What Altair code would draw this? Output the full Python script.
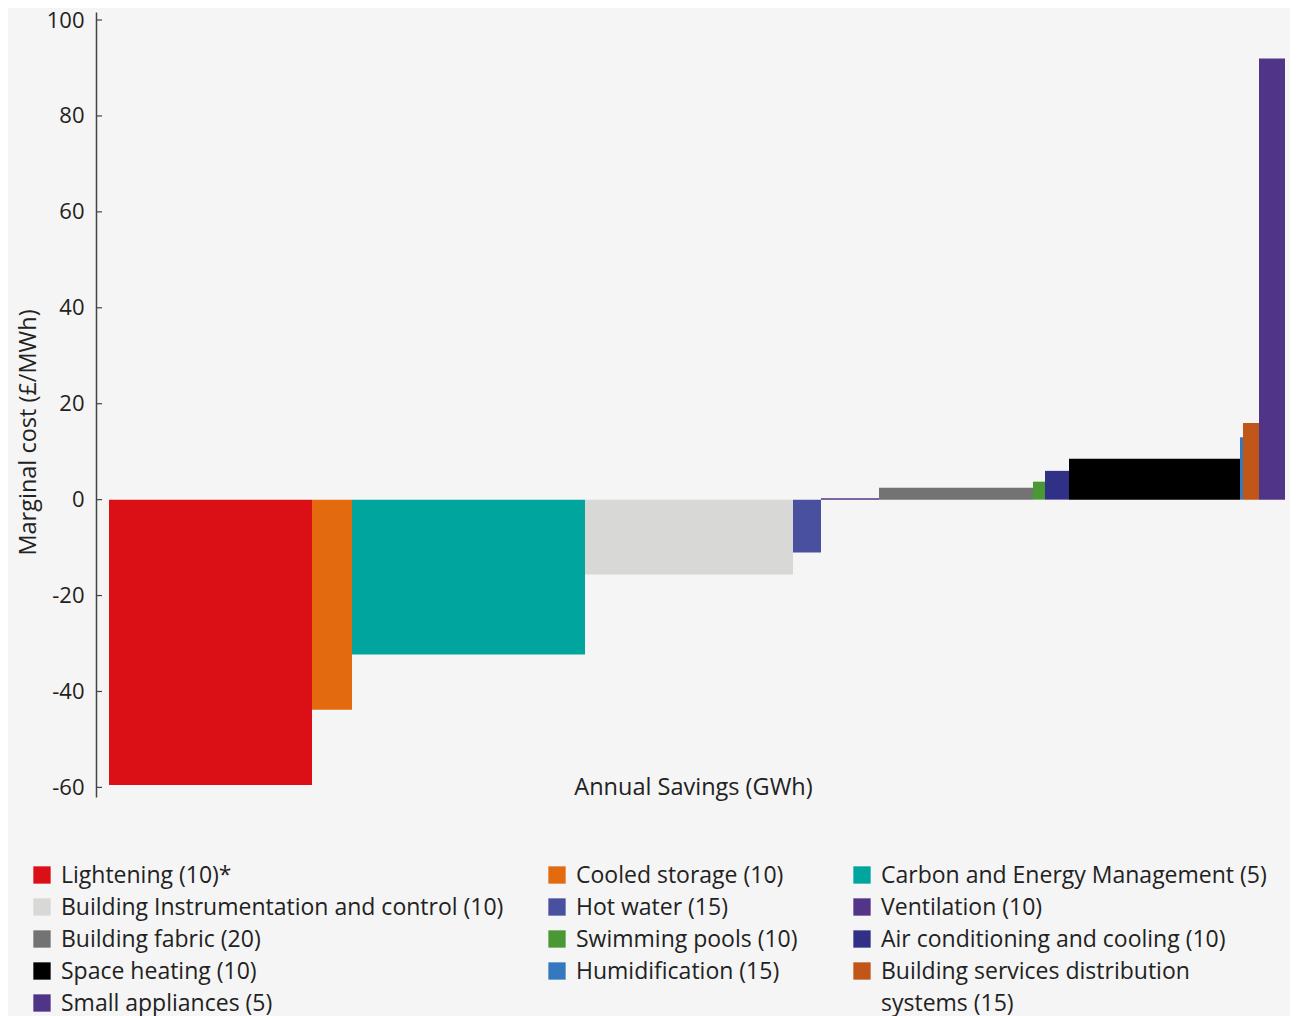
import altair as alt
import pandas as pd

# ---- data ----
categories = [
    "Lightening (10)*", "Cooled storage (10)", "Carbon and Energy Management (5)",
    "Building Instrumentation and control (10)", "Hot water (15)", "Ventilation (10)",
    "Building fabric (20)", "Swimming pools (10)", "Air conditioning and cooling (10)",
    "Space heating (10)", "Humidification (15)", "Building services distribution systems (15)",
    "Small appliances (5)",
]
legend_text = [
    "Lightening (10)*", "Cooled storage (10)", "Carbon and Energy Management (5)",
    "Building Instrumentation and control (10)", "Hot water (15)", "Ventilation (10)",
    "Building fabric (20)", "Swimming pools (10)", "Air conditioning and cooling (10)",
    "Space heating (10)", "Humidification (15)", "Building services distribution\nsystems (15)",
    "Small appliances (5)",
]
savings = [20.3, 4.0, 23.3, 20.8, 2.8, 5.8, 15.4, 1.2, 2.4, 17.1, 0.3, 1.6, 2.6]   # annual savings (width)
cost = [-59.5, -43.8, -32.3, -15.6, -11.0, 0.3, 2.5, 3.75, 6.0, 8.5, 13.0, 16.0, 92.0]  # marginal cost
colors = ["#db0f16", "#e36a0e", "#00a59d", "#d8d8d6", "#4a50a0", "#523587", "#737373",
          "#4a9833", "#303087", "#000000", "#3479c0", "#c05618", "#4f3488"]
y_ticks = [-60, -40, -20, 0, 20, 40, 60, 80, 100]

# ---- tables ----
starts, ends, acc = [], [], 0.0
for w in savings:
    starts.append(acc)
    acc += w
    ends.append(acc)
bars = pd.DataFrame({"cat": categories, "x0": starts, "x1": ends, "cost": cost, "zero": 0})
leg = pd.DataFrame({
    "cat": categories, "text": legend_text,
    "col": [i % 3 for i in range(len(categories))],
    "row": [i // 3 for i in range(len(categories))],
})
ticks_df = pd.DataFrame({"v": y_ticks})

FONT = "Open Sans"
TXT = "#222222"
xdom = [-1.3, 118.1]
ydom = [-62, 101.67]
color_scale = alt.Scale(domain=categories, range=colors)

xs = alt.Scale(domain=xdom, nice=False, zero=False)
ys = alt.Scale(domain=ydom, nice=False, zero=False)

bar_layer = alt.Chart(bars).mark_rect().encode(
    x=alt.X("x0:Q", scale=xs, axis=alt.Axis(
        title="Annual Savings (GWh)", labels=False, ticks=False, domain=False, grid=False,
        titleFont=FONT, titleFontSize=23.5, titleFontWeight="normal", titleColor=TXT,
        titleY=-10, titleBaseline="middle")),
    x2="x1:Q",
    y=alt.Y("zero:Q", scale=ys, axis=alt.Axis(
        title="Marginal cost (£/MWh)", values=y_ticks, grid=False, tickSize=0,
        labelExpr="'' + datum.value",
        labelPadding=12, labelFont=FONT, labelFontSize=22, labelColor=TXT,
        domainColor="#444444", domainWidth=1.5,
        titleFont=FONT, titleFontSize=23.5, titleFontWeight="normal", titleColor=TXT,
        titleX=-68, titleY=420, titleAngle=-90, titleBaseline="middle", titleAlign="center")),
    y2="cost:Q",
    color=alt.Color("cat:N", scale=color_scale, legend=None),
)

zero_line = alt.Chart(bars).mark_rule(color="#555555", strokeWidth=1.5).encode(
    y=alt.Y("datum.zero:Q", scale=ys),
    x=alt.value(0), x2=alt.value(1194),
).transform_filter("datum.cat == 'Lightening (10)*'")

tick_marks = alt.Chart(ticks_df).mark_rule(color="#444444", strokeWidth=1.2).encode(
    y=alt.Y("v:Q", scale=ys), x=alt.value(0), x2=alt.value(6),
)

main = alt.layer(bar_layer, zero_line, tick_marks)

lx = alt.Scale(domain=[0, 1, 2], range=[-54, 461, 766])
ly = alt.Scale(domain=[0, 4], range=[863, 991])

leg_sq = alt.Chart(leg).mark_square(size=300, opacity=1).encode(
    x=alt.X("col:Q", scale=lx, axis=None),
    y=alt.Y("row:Q", scale=ly, axis=None),
    color=alt.Color("cat:N", scale=color_scale, legend=None),
)
leg_txt = alt.Chart(leg).mark_text(
    align="left", baseline="top", dx=19, dy=-10.5, font=FONT, fontSize=23,
    color=TXT, lineBreak="\n", lineHeight=32,
).encode(
    x=alt.X("col:Q", scale=lx, axis=None),
    y=alt.Y("row:Q", scale=ly, axis=None),
    text="text:N",
)
legend_layer = alt.layer(leg_sq, leg_txt)

chart = alt.layer(main, legend_layer).resolve_scale(x="independent", y="independent").properties(
    width=1194, height=785,
    background="#f5f5f5",
    padding={"left": 88, "top": 4, "right": 0, "bottom": 222},
    autosize=alt.AutoSizeParams(type="none"),
).configure_view(stroke=None)

chart.save("out.html", embed_options={"renderer": "svg", "actions": False})
